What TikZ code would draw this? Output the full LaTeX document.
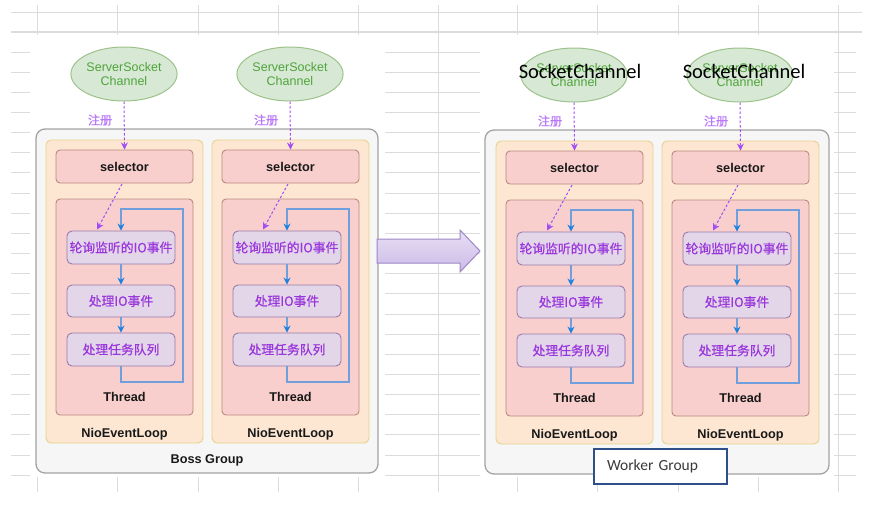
\documentclass[tikz,border=0pt]{standalone}
\usepackage{fontspec}
\setmainfont{Liberation Sans}
\newfontfamily\cjk{Noto Sans CJK SC}
\newfontfamily\cjkb[FakeBold=0.6]{Noto Sans CJK SC}
\newfontfamily\cali{Carlito}
\usetikzlibrary{arrows.meta,shapes.geometric}
\definecolor{gridc}{HTML}{DCDCDC}
\definecolor{grpline}{HTML}{A3A3A3}
\definecolor{grpfill}{HTML}{F6F6F6}
\definecolor{nioline}{HTML}{E6D28A}
\definecolor{niofill}{HTML}{FDE7D2}
\definecolor{redline}{HTML}{B9897F}
\definecolor{redfill}{HTML}{F8CFCC}
\definecolor{evline}{HTML}{9A7BAA}
\definecolor{evfill}{HTML}{E2D6E8}
\definecolor{evtext}{HTML}{9A36DC}
\definecolor{chanline}{HTML}{9CC28A}
\definecolor{chanfill}{HTML}{D7E9D5}
\definecolor{chantext}{HTML}{4FA33A}
\definecolor{regc}{HTML}{A24DF5}
\definecolor{flowline}{HTML}{6F9FDC}
\definecolor{flowhead}{HTML}{1C82E2}
\definecolor{arrtop}{HTML}{E8DFF5}
\definecolor{arrbot}{HTML}{CBBBE7}
\definecolor{arrline}{HTML}{9C86C6}
\definecolor{wgline}{HTML}{2F4F8A}
\definecolor{wgtext}{HTML}{3A3A3A}
\tikzset{
  group/.style={draw=grpline, fill=grpfill, rounded corners=9pt, line width=1.3pt, inner sep=0pt},
  nio/.style={draw=nioline, fill=niofill, rounded corners=5pt, line width=0.9pt, inner sep=0pt},
  redbox/.style={draw=redline, fill=redfill, rounded corners=4pt, line width=0.9pt, inner sep=0pt},
  evbox/.style={draw=evline, fill=evfill, rounded corners=5pt, line width=0.9pt, inner sep=0pt,
    text=evtext, font=\cjkb\fontsize{12.8}{14}\selectfont, minimum width=108pt},
  chan/.style={ellipse, draw=chanline, fill=chanfill, line width=1pt, minimum width=92pt,
    minimum height=54pt, inner sep=0pt, align=center, text=chantext,
    font=\fontsize{12.5}{14}\selectfont},
  lbl/.style={font=\bfseries\fontsize{12.7}{14}\selectfont, text=black!90},
  reglbl/.style={font=\cjkb\fontsize{12}{14}\selectfont, text=regc!75},
  regarrow/.style={draw=regc, line width=1pt, dash pattern=on 2.5pt off 2pt,
    -{Stealth[length=7pt,width=7pt]}},
  flow/.style={draw=flowline, line width=1.3pt, -{Stealth[length=7pt,width=7pt,color=flowhead]}},
  overlay/.style={font=\cali\fontsize{20.5}{22}\selectfont, text=black},
}
\newcommand\nettycol[3]{%
\begin{scope}[shift={(#2,#3)}]
  \node[nio, minimum width=157pt, minimum height=303pt] (#1nio) at (124.5,291.5) {};
  \node[redbox, lbl, minimum width=137pt, minimum height=33pt] (#1sel) at (124.5,166.5) {selector};
  \node[redbox, minimum width=137pt, minimum height=216pt] (#1thr) at (124.5,307) {};
  \node[lbl] (#1thrl) at (124.5,397) {Thread};
  \node[lbl] (#1niol) at (124.5,434) {NioEventLoop};
  \node[evbox, minimum height=33pt] (#1e1) at (121,247.5) {轮询监听的IO事件};
  \node[evbox, minimum height=32pt] (#1e2) at (121,301) {处理IO事件};
  \node[evbox, minimum height=33pt] (#1e3) at (121,349.5) {处理任务队列};
  \node[chan] (#1ch) at (124,74) {ServerSocket\\Channel};
  \node[reglbl] (#1reg) at (100,120) {注册};
  \draw[regarrow] (#1ch.south) -- (#1sel.north);
  \coordinate (#1ds) at (122,184);
  \coordinate (#1de) at (97,229.5);
  \draw[regarrow] (#1ds) -- (#1de);
  \draw[flow] (#1e1) -- (#1e2);
  \draw[flow] (#1e2) -- (#1e3);
  \coordinate (#1lb) at (183,382);
  \coordinate (#1lt) at (183,209);
  \draw[flow] (#1e3.south) |- (#1lb) -- (#1lt) -| (#1e1.north);
\end{scope}}
\begin{document}
\begin{tikzpicture}[x=1pt,y=-1pt]
\useasboundingbox (0,0) rectangle (871,504);
\fill[white] (0,0) rectangle (871,504);
% spreadsheet grid
\draw[gridc, line width=0.9pt] (11,12) -- (862,12);
\draw[gridc, line width=1.6pt] (11,32) -- (862,32);
\foreach \k in {0,...,21} \draw[gridc, line width=0.9pt] (11,52+20.15*\k) -- (856,52+20.15*\k);
\foreach \x in {37,117,198,278,358,438,517,597,678,758,838} \draw[gridc, line width=0.9pt] (\x,5) -- (\x,492);
\fill[white] (30,35) rectangle (385,477);
\fill[white] (480,35) rectangle (834,477);
% groups
\node[group, minimum width=342pt, minimum height=344pt] (boss) at (207,301) {};
\node[lbl] (bossl) at (207,460) {Boss Group};
\node[group, minimum width=344pt, minimum height=344pt] (worker) at (657,302) {};
\nettycol{a}{0}{0}
\nettycol{b}{166}{0}
\nettycol{c}{450}{1}
\nettycol{d}{616}{1}
% big arrow
\draw[arrline, line width=1pt, top color=arrtop, bottom color=arrbot]
  (377,239) -- (460,239) -- (460,230) -- (480,251) -- (460,272) -- (460,263) -- (377,263) -- cycle;
% worker group label box
\node[draw=wgline, line width=1.5pt, fill=white, minimum height=35pt, inner xsep=13pt,
  text width=107pt, align=left, text=wgtext, font=\cali\fontsize{15.5}{18}\selectfont]
  (wgl) at (660.5,466.5) {Worker Group};
% overlaid labels (written over the old channel names, as in the reference)
\node[overlay] (cover1) at (580,71) {SocketChannel};
\node[overlay] (cover2) at (744,71) {SocketChannel};
\end{tikzpicture}
\end{document}
